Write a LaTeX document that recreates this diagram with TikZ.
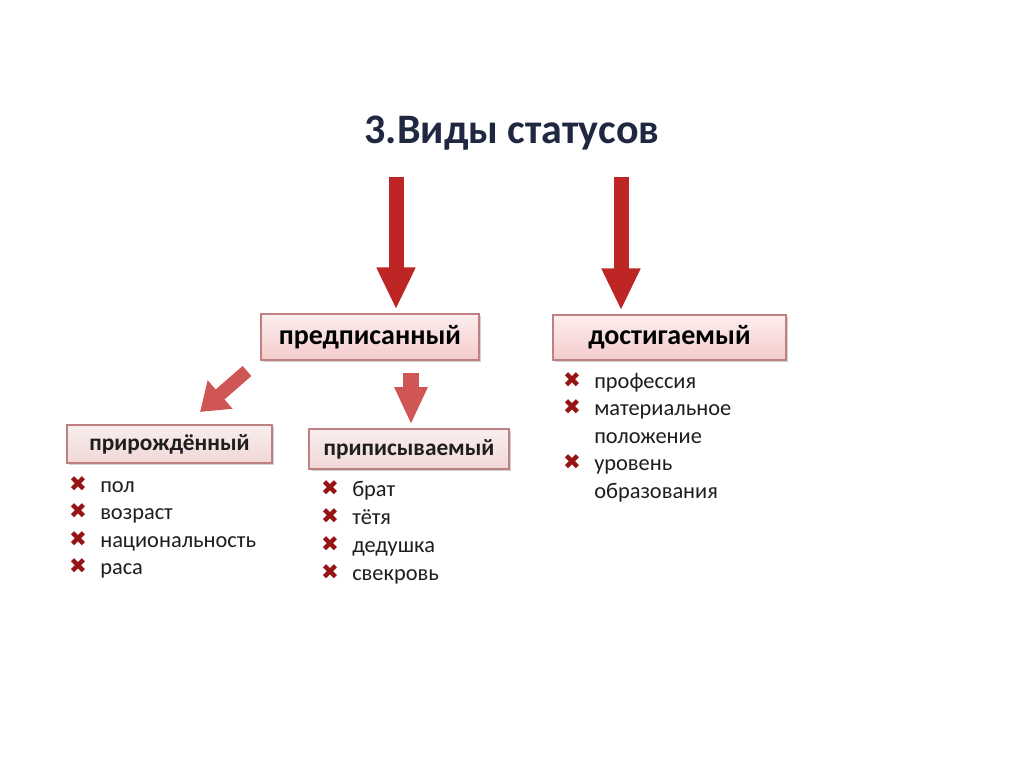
\documentclass[tikz,border=0pt]{standalone}
\usepackage{fontspec}
\setmainfont{Carlito}
\newfontfamily\dejavu{DejaVu Sans}
\usetikzlibrary{arrows.meta,shadows}
\definecolor{titlec}{RGB}{31,40,64}
\definecolor{arrowred}{RGB}{190,38,38}
\definecolor{lightred}{RGB}{208,86,86}
\definecolor{boxtop}{RGB}{253,238,238}
\definecolor{boxbot}{RGB}{243,203,203}
\definecolor{boxline}{RGB}{190,128,128}
\definecolor{smalltop}{RGB}{250,238,238}
\definecolor{smallbot}{RGB}{240,215,215}
\definecolor{markc}{RGB}{150,20,20}
\definecolor{txt}{RGB}{30,30,30}
\newcommand\xmk{{\dejavu\char"2716}}
\begin{document}
\begin{tikzpicture}[x=0.75pt,y=-0.75pt,
  boxshadow/.style={drop shadow={shadow xshift=1.5pt,shadow yshift=-1.5pt,fill=black,opacity=0.18}},
  bigbox/.style={draw=boxline, line width=0.8pt, top color=boxtop, bottom color=boxbot, boxshadow,
     inner sep=0pt, font=\fontsize{21}{25}\selectfont\bfseries, text=black},
  smallbox/.style={draw=boxline, line width=0.8pt, top color=smalltop, bottom color=smallbot, boxshadow,
     inner sep=0pt, font=\fontsize{17.5}{21}\selectfont\bfseries, text=txt},
  bigarrow/.style={draw=arrowred, line width=11.25pt, -{Triangle[width=27pt,length=31.5pt]}},
  diagarrow/.style={draw=lightred, line width=10pt, -{Triangle[width=27pt,length=20pt]}},
  downarrow/.style={draw=lightred, line width=12pt, -{Triangle[width=23pt,length=28pt]}},
  xmark/.style={anchor=center, inner sep=0pt, text=markc, font=\fontsize{16}{18}\selectfont},
  listitem/.style={anchor=base west, inner sep=0pt, text=txt, font=\fontsize{16.8}{20}\selectfont}
]
\useasboundingbox[fill=white] (0,0) rectangle (1024,767);

\node[font=\fontsize{31.5}{38}\selectfont\bfseries, text=titlec] (title) at (512,133) {3.Виды статусов};

\node[bigbox, minimum width=163.5pt, minimum height=34.5pt] (pred) at (370,337) {предписанный};
\node[bigbox, minimum width=174.75pt, minimum height=33.75pt] (dost) at (669.5,337.5) {достигаемый};
\node[smallbox, minimum width=153.75pt, minimum height=28.5pt] (prir) at (169.5,444) {прирождённый};
\node[smallbox, minimum width=150pt, minimum height=30pt] (prip) at (409,449) {приписываемый};

\coordinate (a1) at (396,177);
\coordinate (a2) at (621,177);
\draw[bigarrow, shorten >=3pt] (a1) -- (a1 |- pred.north);
\draw[bigarrow, shorten >=3pt] (a2) -- (a2 |- dost.north);

\coordinate (d1) at (247,371);
\coordinate (d2) at (200,412);
\draw[diagarrow] (d1) -- (d2);
\coordinate (a3) at (411,373);
\draw[downarrow, shorten >=3pt] (a3) -- (a3 |- prip.north);

% left list
\foreach \t [count=\i] in {пол,возраст,национальность,раса}{
  \node[xmark] (lm\i) at (78,{484+27.5*(\i-1)}) {\xmk};
  \node[listitem] (lt\i) at (100,{492+27.5*(\i-1)}) {\t};
}
% middle list
\foreach \t [count=\i] in {брат,тётя,дедушка,свекровь}{
  \node[xmark] (mm\i) at (330,{488+28*(\i-1)}) {\xmk};
  \node[listitem] (mt\i) at (352,{496+28*(\i-1)}) {\t};
}
% right list
\node[xmark] (rm1) at (572,380) {\xmk};
\node[listitem] (rt1) at (594,388) {профессия};
\node[xmark] (rm2) at (572,407.5) {\xmk};
\node[listitem] (rt2) at (594,415.5) {материальное};
\node[listitem] (rt3) at (594,443) {положение};
\node[xmark] (rm4) at (572,462.5) {\xmk};
\node[listitem] (rt4) at (594,470.5) {уровень};
\node[listitem] (rt5) at (594,498) {образования};
\end{tikzpicture}
\end{document}
